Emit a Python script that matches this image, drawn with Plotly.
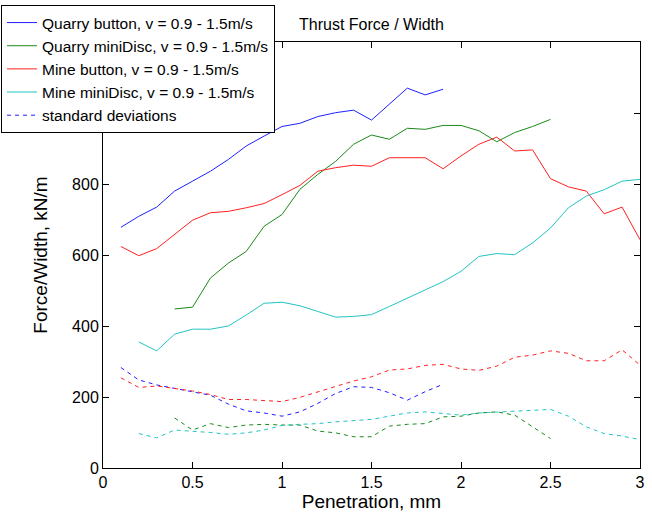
import plotly.graph_objects as go

# Penetration (mm) grids
x_qb = [round(0.1 * i, 1) for i in range(1, 20)]      # 0.1 .. 1.9
x_qm = [round(0.1 * i, 1) for i in range(4, 26)]      # 0.4 .. 2.5
x_mb = [round(0.1 * i, 1) for i in range(1, 31)]      # 0.1 .. 3.0
x_mm = [round(0.1 * i, 1) for i in range(2, 31)]      # 0.2 .. 3.0

# Mean thrust force / width (kN/m)
quarry_button = [678, 709, 735, 780, 808, 836, 869, 907, 935, 962, 971, 990, 1001,
                 1008, 980, 1025, 1070, 1051, 1067]
quarry_minidisc = [448, 453, 535, 577, 610, 681, 714, 785, 827, 864, 912, 938, 926,
                   957, 954, 965, 965, 950, 919, 945, 962, 982]
mine_button = [624, 598, 618, 657, 698, 719, 723, 733, 745, 770, 796, 836, 846, 853,
               850, 874, 874, 874, 843, 879, 912, 932, 893, 896, 815, 792, 780, 716,
               735, 643]
mine_minidisc = [355, 330, 377, 391, 391, 400, 431, 464, 467, 457, 441, 425, 427, 432,
                 455, 478, 502, 525, 554, 596, 604, 601, 634, 676, 733, 766, 784, 808,
                 813]

# Standard deviations (kN/m)
sd_quarry_button = [283, 248, 234, 224, 215, 205, 180, 161, 155, 146, 158, 182, 210,
                    229, 227, 212, 191, 215, 236]
sd_quarry_minidisc = [141, 107, 125, 114, 121, 123, 121, 121, 104, 99, 88, 88, 118,
                      123, 125, 144, 146, 155, 158, 149, 116, 83]
sd_mine_button = [254, 227, 231, 224, 217, 207, 193, 193, 191, 187, 199, 215, 229, 245,
                  257, 276, 279, 289, 292, 279, 275, 287, 312, 318, 330, 323, 302, 302,
                  333, 290]
sd_mine_minidisc = [97, 85, 107, 104, 100, 95, 99, 107, 120, 123, 125, 130, 133, 137,
                    146, 155, 158, 154, 149, 155, 158, 160, 163, 165, 146, 116, 97, 90,
                    80]

# Axis ticks (labels 1000 / 1200 sit under the legend in the reference)
x_ticks = [0, 0.5, 1, 1.5, 2, 2.5, 3]
x_ticklabels = ["0", "0.5", "1", "1.5", "2", "2.5", "3"]
y_ticks = [0, 200, 400, 600, 800, 1000, 1200]
y_ticklabels = ["0", "200", "400", "600", "800", "", ""]

names = ["Quarry button, v = 0.9 - 1.5m/s", "Quarry miniDisc, v = 0.9 - 1.5m/s",
         "Mine button, v = 0.9 - 1.5m/s", "Mine miniDisc, v = 0.9 - 1.5m/s"]
sd_name = "standard deviations"
xs = [x_qb, x_qm, x_mb, x_mm]
means = [quarry_button, quarry_minidisc, mine_button, mine_minidisc]
sds = [sd_quarry_button, sd_quarry_minidisc, sd_mine_button, sd_mine_minidisc]
colors = ["#1f1fff", "#1a8a1a", "#ff2020", "#22c4c4"]

FONT = "Liberation Sans, Arial, sans-serif"

fig = go.Figure()
for i in range(4):
    fig.add_trace(go.Scatter(x=xs[i], y=means[i], mode="lines", name=names[i],
                             line=dict(color=colors[i], width=1)))
for i in range(4):
    fig.add_trace(go.Scatter(x=xs[i], y=sds[i], mode="lines", name=sd_name,
                             showlegend=(i == 0),
                             line=dict(color=colors[i], width=1, dash="4px,4px")))

W, H = 652, 512
L, R, T, B = 103, 12, 42, 44
pw, ph = W - L - R, H - T - B

fig.update_layout(
    width=W, height=H,
    margin=dict(l=L, r=R, t=T, b=B, autoexpand=False),
    paper_bgcolor="white", plot_bgcolor="white",
    font=dict(family=FONT, size=16, color="black"),
    title=dict(text="Thrust Force / Width", x=0.5, xref="paper",
               y=1 - 24 / H, yref="container", xanchor="center", yanchor="middle",
               font=dict(size=16)),
    showlegend=True,
    legend=dict(x=(1 - L) / pw, y=1 + (T - 5) / ph, xanchor="left", yanchor="top",
                bgcolor="white", bordercolor="black", borderwidth=1,
                font=dict(size=15.5), traceorder="normal"),
    xaxis=dict(range=[0, 3], tickmode="array", tickvals=x_ticks,
               ticktext=x_ticklabels,
               ticks="inside", ticklen=6, tickcolor="black", mirror="ticks",
               showline=True, linecolor="black", linewidth=1, showgrid=False,
               zeroline=False, automargin=False,
               title=dict(text="Penetration, mm", standoff=6)),
    yaxis=dict(range=[0, 1200], tickmode="array", tickvals=y_ticks,
               ticktext=y_ticklabels,
               ticks="inside", ticklen=6, tickcolor="black", mirror="ticks",
               showline=True, linecolor="black", linewidth=1, showgrid=False,
               zeroline=False, automargin=False,
               title=dict(text="Force/Width, kN/m", standoff=19)),
)

fig.write_html("out.html")
